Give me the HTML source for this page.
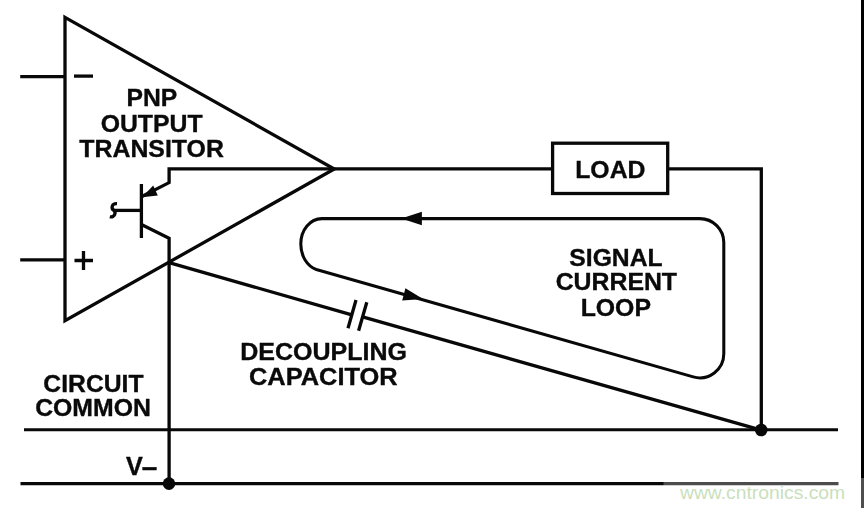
<!DOCTYPE html>
<html>
<head>
<meta charset="utf-8">
<title>PNP output transistor signal current loop</title>
<style>
html,body{margin:0;padding:0;background:#fff;}
body{width:864px;height:508px;overflow:hidden;}
svg{display:block;}
text{font-family:"Liberation Sans",Arial,Helvetica,sans-serif;}
.b{font-weight:bold;fill:#0a0a0a;text-anchor:middle;stroke:#0a0a0a;stroke-width:0.35;}
.w{stroke:#080808;stroke-width:3.3;fill:none;stroke-linecap:butt;stroke-linejoin:miter;}
.l{stroke:#080808;stroke-width:3.05;fill:none;stroke-linecap:butt;stroke-linejoin:round;}
</style>
</head>
<body>
<svg width="864" height="508" viewBox="0 0 864 508">
<rect x="0" y="0" width="864" height="508" fill="#ffffff"/>

<!-- op-amp triangle -->
<path class="w" d="M65 17.4 L334.3 169 L65 320.8 Z"/>
<!-- input leads -->
<path class="w" d="M20.2 76.6 H65 M20.2 259.9 H65"/>
<!-- minus and plus -->
<path class="w" d="M74 76.1 H93"/>
<path class="w" d="M74.5 260.5 H93 M83.5 250.9 V270"/>

<!-- output wire -->
<path class="w" d="M141.4 196.8 L169.1 182.6 V168.8 H552.6 M667.7 168.8 H761.3 V430"/>
<!-- load box -->
<rect class="w" x="552.6" y="143.2" width="115.1" height="50.3" stroke-width="2.8"/>

<!-- transistor -->
<path class="w" d="M141.4 184 V238"/>
<path class="w" d="M114 210.4 H141.4" stroke-width="2.7"/>
<path class="w" d="M141.4 224.5 L169.1 238.2 V484"/>
<path d="M142 197.2 L153.2 185.6 L157.8 195.4 Z" fill="#080808"/>
<path class="w" d="M117 203.6 C111.5 203.2 111 208.5 113.8 210.4 C116.5 212.5 114.5 217.6 109.8 216.8" stroke-width="2.1"/>

<!-- decoupling capacitor line -->
<path class="w" d="M169.1 262.6 L351 314.6 M363.5 317.2 L761.3 430.2"/>
<path class="w" d="M356 300 L348 328.3 M366.8 302.2 L358.6 330.8" stroke-width="2.8"/>

<!-- signal current loop -->
<path class="l" d="M321.8 218.6 H699.8 A24 24 0 0 1 723.8 242.6 V353.8 A24 24 0 0 1 693.23 376.89 L316.3 269.45 A21 26.3 0 0 1 300.8 244 A21 25.4 0 0 1 321.8 218.6 Z"/>
<path d="M401.2 218.5 L421.9 211.7 V225.2 Z" fill="#080808"/>
<path d="M423.1 298.9 L402.2 300.6 L405.4 288.2 Z" fill="#080808"/>

<!-- rails -->
<path class="l" d="M24 429.8 H838"/>
<path class="l" d="M20.5 483.6 H838.5"/>
<circle cx="761.2" cy="430" r="6.3" fill="#080808"/>
<circle cx="169" cy="483.6" r="6.3" fill="#080808"/>

<!-- labels -->
<g opacity="0.999">
<text class="b" font-size="24.4" transform="translate(151.85 106.4) scale(1.0120 1)">PNP</text>
<text class="b" font-size="24.6" transform="translate(151.65 131.6) scale(1.0093 1)">OUTPUT</text>
<text class="b" font-size="24.6" transform="translate(151.60 156.7) scale(1.0113 1)">TRANSITOR</text>
<text class="b" font-size="24.8" transform="translate(610.35 178.4) scale(1.0003 1)">LOAD</text>
<text class="b" font-size="24.0" transform="translate(615.95 265.8) scale(1.0297 1)">SIGNAL</text>
<text class="b" font-size="24.0" transform="translate(616.35 290.3) scale(1.0354 1)">CURRENT</text>
<text class="b" font-size="24.0" transform="translate(615.80 315.8) scale(1.0347 1)">LOOP</text>
<text class="b" font-size="23.5" transform="translate(323.60 360.2) scale(1.0646 1)">DECOUPLING</text>
<text class="b" font-size="23.5" transform="translate(323.35 385.1) scale(1.0814 1)">CAPACITOR</text>
<text class="b" font-size="23.5" transform="translate(93.45 391.5) scale(1.0513 1)">CIRCUIT</text>
<text class="b" font-size="23.5" transform="translate(93.00 416.4) scale(1.0560 1)">COMMON</text>
<text class="b" font-size="25.2" style="text-anchor:start" transform="translate(126 474.9)">V<tspan font-size="28" dx="-1" dy="1.1">–</tspan></text>
</g>

<!-- watermark overlay -->
<rect x="663.5" y="478" width="200.5" height="30" fill="#ffffff" fill-opacity="0.28"/>
<g opacity="0.999"><text transform="translate(680 498.7) scale(1.016 1)" font-size="19" fill="#c9dfbd">www.cntronics.com</text></g>

<!-- right edge bar -->
<rect x="861" y="0" width="3" height="478" fill="#000"/>
<rect x="861" y="478" width="3" height="30" fill="#4e4e4e"/>
</svg>
</body>
</html>
